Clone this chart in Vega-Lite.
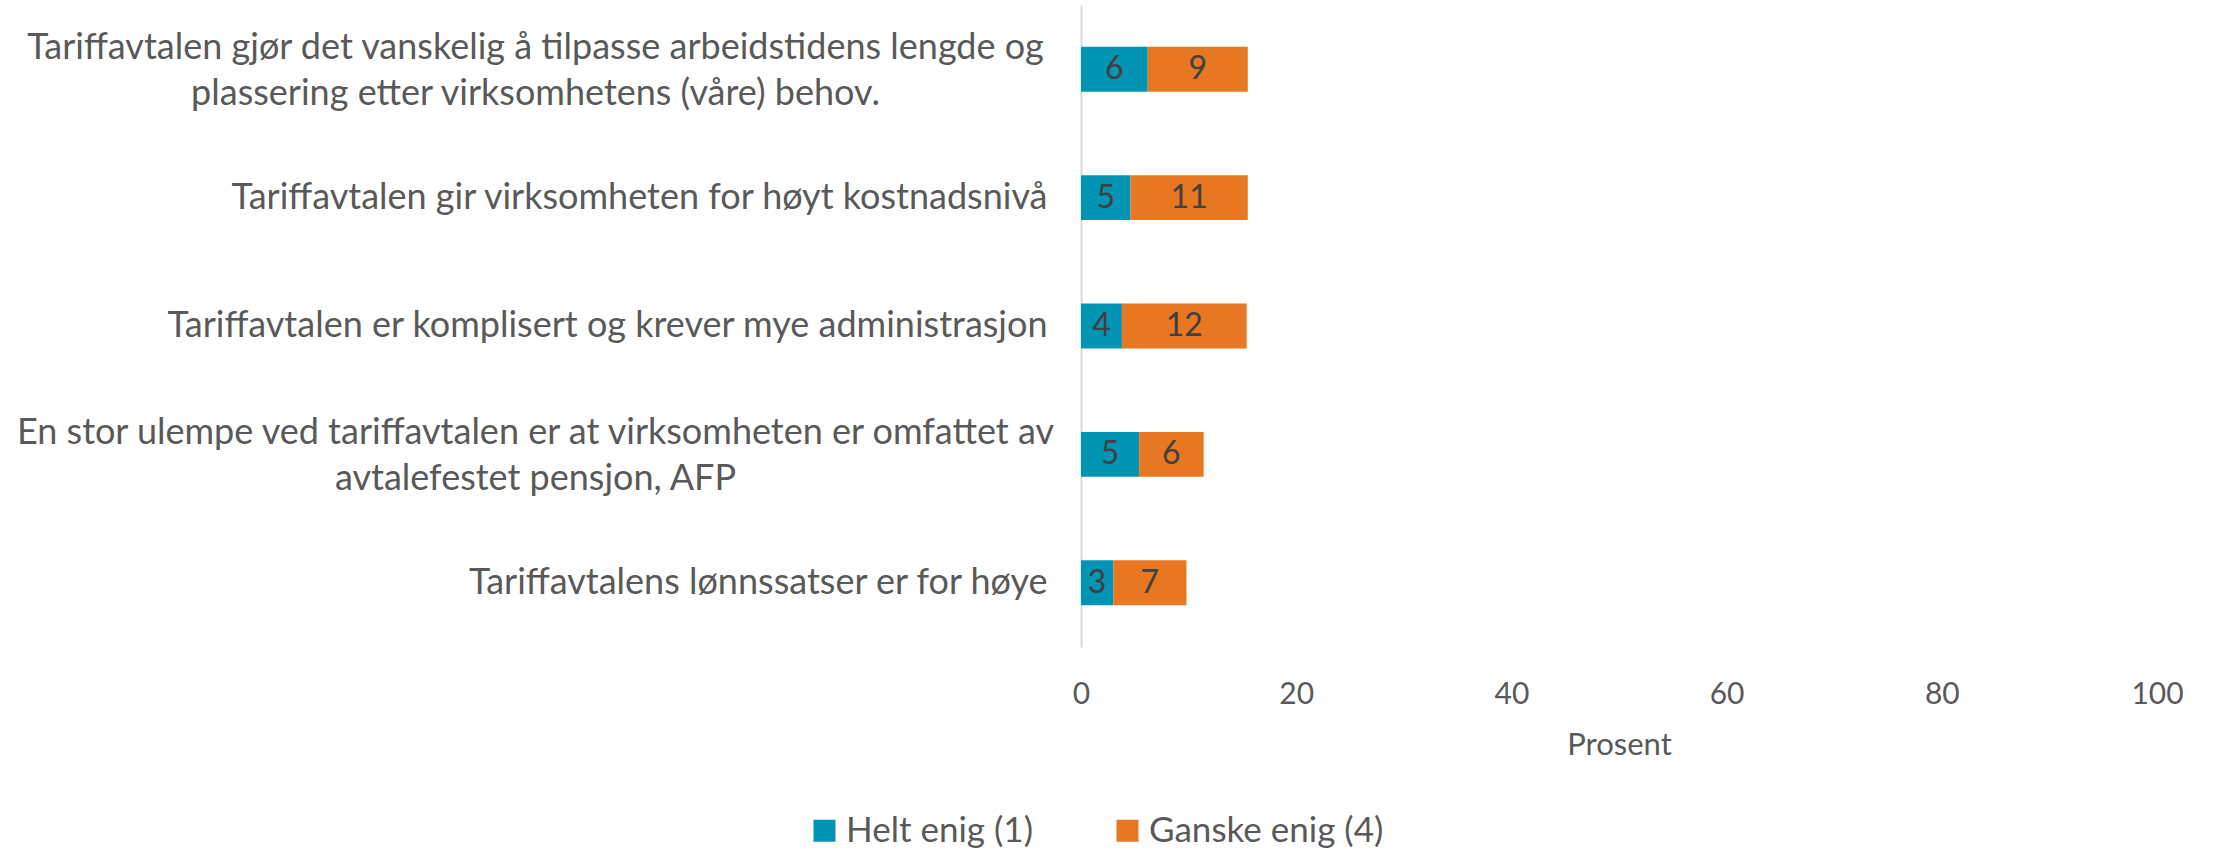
{
  "$schema": "https://vega.github.io/schema/vega-lite/v6.json",
  "width": 1076,
  "height": 642,
  "autosize": {"type": "none"},
  "padding": {"left": 1081, "top": 5, "right": 56, "bottom": 208},
  "background": "white",
  "config": {
    "view": {"stroke": null},
    "font": "Lato",
    "axis": {"labelColor": "#595959", "titleColor": "#595959", "labelFont": "Lato", "titleFont": "Lato", "titleFontWeight": "normal"}
  },
  "data": {
    "values": [
      {"question": "Tariffavtalen gjør det vanskelig å tilpasse arbeidstidens lengde og|plassering etter virksomhetens (våre) behov.", "category": "Helt enig (1)", "order": 1, "value": 6.2},
      {"question": "Tariffavtalen gjør det vanskelig å tilpasse arbeidstidens lengde og|plassering etter virksomhetens (våre) behov.", "category": "Ganske enig (4)", "order": 2, "value": 9.3},
      {"question": "Tariffavtalen gir virksomheten for høyt kostnadsnivå", "category": "Helt enig (1)", "order": 1, "value": 4.6},
      {"question": "Tariffavtalen gir virksomheten for høyt kostnadsnivå", "category": "Ganske enig (4)", "order": 2, "value": 10.9},
      {"question": "Tariffavtalen er komplisert og krever mye administrasjon", "category": "Helt enig (1)", "order": 1, "value": 3.8},
      {"question": "Tariffavtalen er komplisert og krever mye administrasjon", "category": "Ganske enig (4)", "order": 2, "value": 11.6},
      {"question": "En stor ulempe ved tariffavtalen er at virksomheten er omfattet av|avtalefestet pensjon, AFP", "category": "Helt enig (1)", "order": 1, "value": 5.4},
      {"question": "En stor ulempe ved tariffavtalen er at virksomheten er omfattet av|avtalefestet pensjon, AFP", "category": "Ganske enig (4)", "order": 2, "value": 6.0},
      {"question": "Tariffavtalens lønnssatser er for høye", "category": "Helt enig (1)", "order": 1, "value": 3.0},
      {"question": "Tariffavtalens lønnssatser er for høye", "category": "Ganske enig (4)", "order": 2, "value": 6.8}
    ]
  },
  "transform": [
    {"stack": "value", "groupby": ["question"], "sort": [{"field": "order"}], "as": ["x0", "x1"]},
    {"calculate": "(datum.x0 + datum.x1) / 2", "as": "mid"}
  ],
  "encoding": {
    "y": {
      "field": "question", "type": "nominal", "sort": null,
      "scale": {"paddingInner": 0.65, "paddingOuter": 0.325},
      "axis": {
        "title": null, "ticks": false, "grid": false,
        "domain": true, "domainColor": "#d9d9d9", "domainWidth": 2,
        "labelFontSize": 36, "labelLimit": 1100,
        "labelLineHeight": 46,
        "labelExpr": "split(datum.label, '|')",
        "labelAlign": {"condition": {"test": "indexof(datum.value, '|') >= 0", "value": "center"}, "value": "right"},
        "labelPadding": {"condition": {"test": "indexof(datum.value, '|') >= 0", "value": 546}, "value": 34},
        "labelOffset": {"condition": {"test": "indexof(datum.value, '|') >= 0", "value": -21}, "value": 0}
      }
    }
  },
  "layer": [
    {
      "mark": {"type": "bar"},
      "encoding": {
        "x": {
          "field": "x0", "type": "quantitative",
          "scale": {"domain": [0, 100], "nice": false},
          "axis": {
            "title": "Prosent", "values": [0, 20, 40, 60, 80, 100],
            "grid": false, "domain": false, "ticks": false, "labelFlush": false,
            "labelFontSize": 30, "labelPadding": 32,
            "titleFontSize": 31, "titlePadding": 21
          }
        },
        "x2": {"field": "x1"},
        "color": {
          "field": "category", "type": "nominal",
          "scale": {"domain": ["Helt enig (1)", "Ganske enig (4)"], "range": ["#0094B5", "#E87722"]},
          "legend": {
            "title": null, "orient": "none", "direction": "horizontal",
            "legendX": -274, "legendY": 808,
            "symbolType": "square", "symbolSize": 484, "symbolStrokeWidth": 0,
            "labelFontSize": 35, "labelColor": "#595959", "labelFont": "Lato", "labelLimit": 400,
            "labelOffset": 4, "columnPadding": 77
          }
        }
      }
    },
    {
      "mark": {"type": "text", "fontSize": 32, "color": "#404040", "baseline": "middle", "align": "center"},
      "encoding": {
        "x": {"field": "mid", "type": "quantitative"},
        "text": {"field": "value", "type": "quantitative", "format": ".0f"}
      }
    }
  ]
}
